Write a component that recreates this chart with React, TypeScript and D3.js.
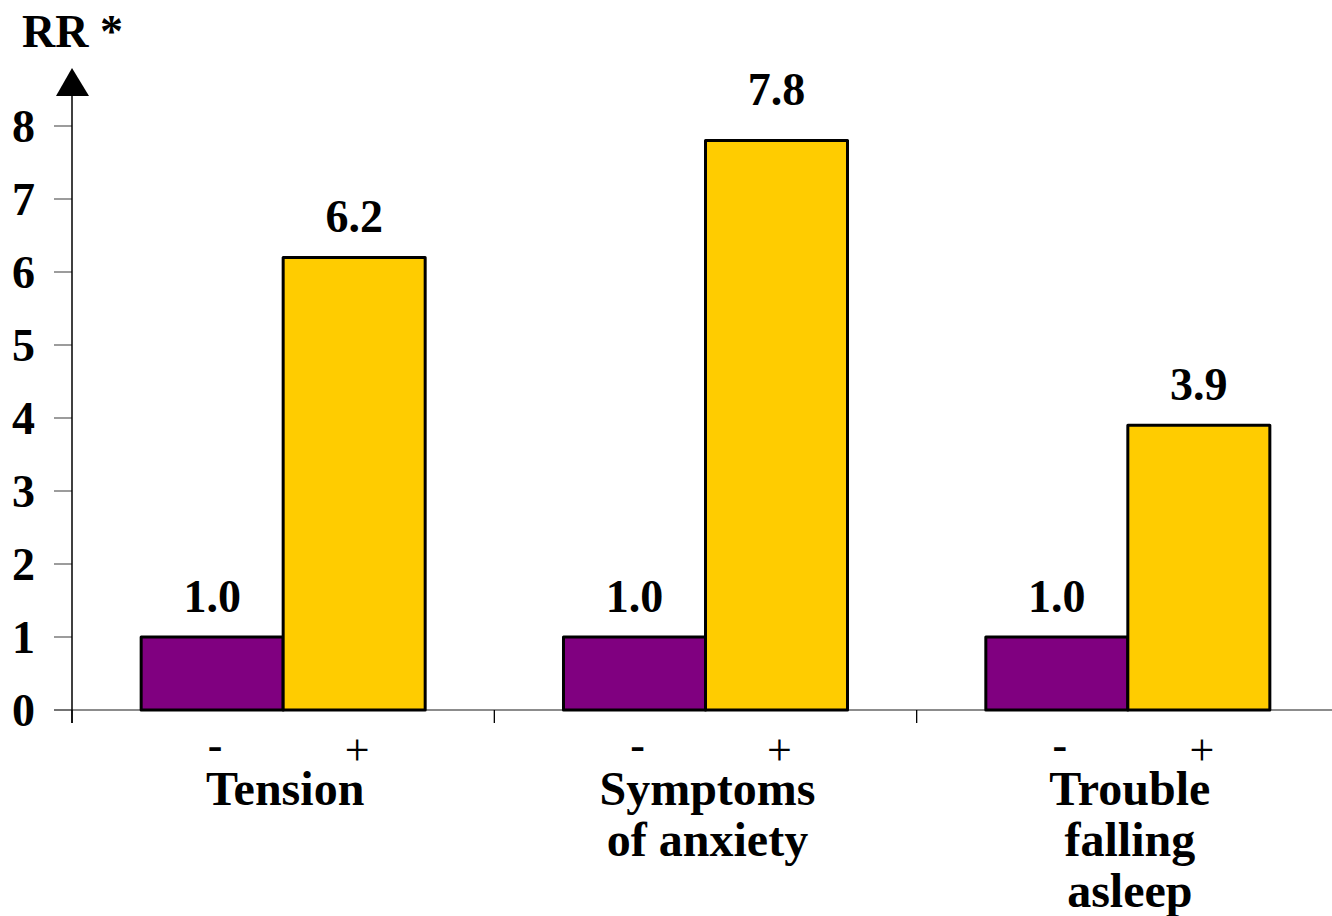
import React from "react";
import * as d3 from "d3";

const categories: string[][] = [["Tension"], ["Symptoms", "of anxiety"], ["Trouble", "falling", "asleep"]];
const categoryKeys = ["Tension", "Symptoms of anxiety", "Trouble falling asleep"];
const groups = ["-", "+"];
const minusValues = [1.0, 1.0, 1.0];
const plusValues = [6.2, 7.8, 3.9];
const yTicks = [0, 1, 2, 3, 4, 5, 6, 7, 8];
const colors = { "-": "#800080", "+": "#FFCC00" } as Record<string, string>;

const W = 1332;
const H = 916;
const FONT = { fontFamily: '"Liberation Serif", "Times New Roman", serif' };
// extra lift of the "+" value labels (layout only)
const LABEL_LIFT: Record<string, number> = { "Symptoms of anxiety": 11 };

export default function App() {
  const x0 = d3.scaleBand<string>().domain(categoryKeys).range([72, 1339]).paddingInner(0).paddingOuter(0);
  const x1 = d3.scaleBand<string>().domain(groups).range([0, x0.bandwidth()]).paddingInner(0).paddingOuter(0.487);
  const y = d3.scaleLinear().domain([0, 8]).range([710, 126]);
  const axisX = 72;
  const baseY = y(0);

  const bars = categoryKeys.flatMap((c, i) => [
    { c, g: "-", v: minusValues[i] },
    { c, g: "+", v: plusValues[i] },
  ]);

  return (
    <svg width={W} height={H} style={{ position: "absolute", left: 0, top: 0, background: "#fff" }}>
      {/* y ticks */}
      {yTicks.map((t) => (
        <g key={t}>
          <line x1={54} x2={axisX} y1={y(t)} y2={y(t)} stroke="#666" strokeWidth={1.3} />
          <text x={35} y={y(t) + 16} textAnchor="end" fontSize={46} fontWeight="bold" style={FONT}>{t}</text>
        </g>
      ))}
      {/* x baseline */}
      <line x1={54} x2={1339} y1={baseY} y2={baseY} stroke="#666" strokeWidth={1.5} />
      {/* category separators */}
      {categoryKeys.map((c) => (
        <line key={c} x1={x0(c)!} x2={x0(c)!} y1={baseY} y2={baseY + 13} stroke="#000" strokeWidth={1.3} />
      ))}
      <line x1={1339} x2={1339} y1={baseY} y2={baseY + 13} stroke="#000" strokeWidth={1.3} />
      {/* y axis with arrow */}
      <line x1={axisX} x2={axisX} y1={94} y2={baseY + 13} stroke="#000" strokeWidth={1.5} />
      <path d={`M${axisX},68 L${axisX + 17},96 L${axisX - 16},96 Z`} fill="#000" />
      <text x={22} y={47} fontSize={46} fontWeight="bold" style={FONT}>RR *</text>
      {/* bars */}
      {bars.map((b) => {
        const bx = x0(b.c)! + x1(b.g)!;
        const bw = x1.bandwidth();
        const lift = b.g === "+" ? LABEL_LIFT[b.c] || 0 : 0;
        return (
          <g key={b.c + b.g}>
            <rect x={bx} y={y(b.v)} width={bw} height={baseY - y(b.v)} fill={colors[b.g]} stroke="#000" strokeWidth={3} strokeLinejoin="round" />
            <text x={bx + bw / 2} y={y(b.v) - 25 - lift} textAnchor="middle" fontSize={46} fontWeight="bold" style={FONT}>{b.v.toFixed(1)}</text>
          </g>
        );
      })}
      {/* group signs */}
      {categoryKeys.map((c) => (
        <g key={"s" + c}>
          <text x={x0(c)! + x1("-")! + x1.bandwidth() / 2 + 3} y={760} textAnchor="middle" fontSize={44} fontWeight="bold" style={FONT}>-</text>
          <text x={x0(c)! + x1("+")! + x1.bandwidth() / 2 + 3} y={765} textAnchor="middle" fontSize={44} style={FONT}>+</text>
        </g>
      ))}
      {/* category labels */}
      {categoryKeys.map((c, i) => (
        <text key={"l" + c} x={x0(c)! + x0.bandwidth() / 2 + 2} y={805} textAnchor="middle" fontSize={48} fontWeight="bold" style={FONT}>
          {categories[i].map((line, j) => (
            <tspan key={j} x={x0(c)! + x0.bandwidth() / 2 + 2} dy={j === 0 ? 0 : 51}>{line}</tspan>
          ))}
        </text>
      ))}
    </svg>
  );
}
